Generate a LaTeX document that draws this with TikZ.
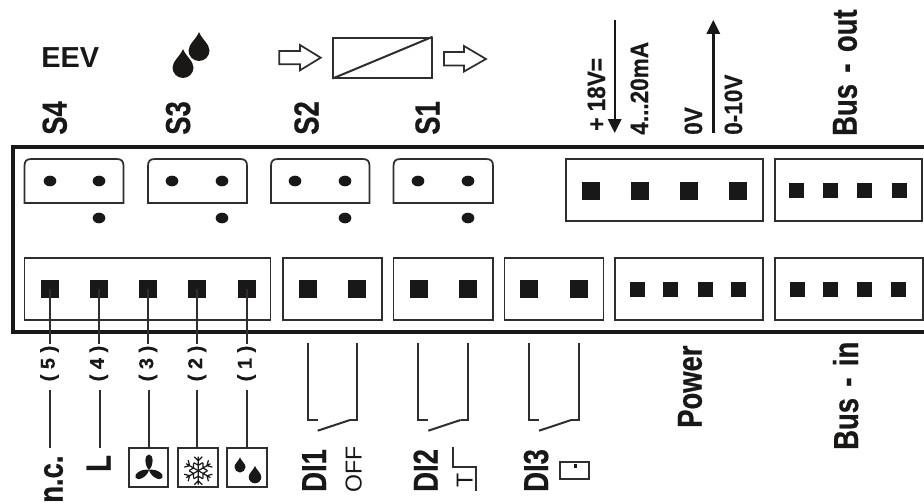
\documentclass[tikz,border=0pt]{standalone}
\usepackage{fontspec}
\setmainfont{Liberation Sans}
\newfontfamily\nbfont[FakeStretch=0.79,WordSpace=1.5,BoldFeatures={FakeBold=0.6}]{Liberation Sans}
\newfontfamily\ncfont[FakeStretch=0.9,BoldFeatures={FakeBold=0.4}]{Liberation Sans}
\newfontfamily\nnfont[BoldFeatures={FakeBold=0.5}]{Liberation Sans}
\definecolor{ink}{HTML}{1A1717}
\definecolor{thin}{HTML}{2E2E2E}
\tikzset{
  frameline/.style={draw=ink,line width=3pt},
  sock/.style={draw=thin,line width=1.3pt,line join=miter},
  boxn/.style={draw=thin,line width=1.3pt,inner sep=0pt},
  pinbig/.style={fill=ink,inner sep=0pt,minimum size=13.5pt},
  pinsmall/.style={fill=ink,inner sep=0pt,minimum size=11.25pt},
  holedot/.style={fill=ink,ellipse,inner sep=0pt,minimum width=9.5pt,minimum height=8pt},
  wire/.style={draw=thin,line width=1.5pt},
  lbig/.style={rotate=90,anchor=base west,inner sep=0pt,text=ink,font=\nbfont\bfseries\fontsize{26}{26}\selectfont},
  lmid/.style={rotate=90,anchor=base west,inner sep=0pt,text=ink,font=\ncfont\bfseries\fontsize{18.8}{19}\selectfont},
  lnum/.style={rotate=90,anchor=center,inner sep=0pt,text=ink,font=\nnfont\bfseries\fontsize{15}{16}\selectfont},
  iconbox/.style={draw=thin,line width=1.4pt,inner sep=0pt,minimum size=29.5pt},
  hollow/.style={draw=thin,line width=1.3pt,fill=white,line join=miter},
}
\usetikzlibrary{shapes.geometric,arrows.meta}
\newcommand{\dropshape}[3]{\fill[ink,shift={(#1,#2)},scale=#3] (0,-1.75) .. controls (.25,-1.1) and (1,-.6) .. (1,0) .. controls (1,.55) and (.55,1) .. (0,1) .. controls (-.55,1) and (-1,.55) .. (-1,0) .. controls (-1,-.6) and (-.25,-1.1) .. (0,-1.75) -- cycle;}
\newcommand{\topsock}[2]{\draw[sock] (#1,203) -- (#1,166) .. controls (#1,161) and (#1+2,159) .. (#1+7,159) -- (#2-7,159) .. controls (#2-2,159) and (#2,161) .. (#2,166) -- (#2,203) -- cycle;}
\begin{document}
\begin{tikzpicture}[x=0.75pt,y=-0.75pt]
\useasboundingbox (0,0) rectangle (924,503);
\fill[white] (0,0) rectangle (924,503);
% frame
\draw[frameline] (926,147) -- (12.5,147) -- (12.5,332) -- (926,332);
% top sockets
\topsock{24.5}{123.5}\topsock{148}{247}\topsock{271}{369.5}\topsock{393.5}{493}
\foreach \n/\x in {a/50,b/99,c/172,d/222,e/295,f/345,g/418,h/468}
  \node[holedot] (hole\n) at (\x,181) {};
\foreach \n/\x in {b/99,d/222,f/345,h/468}
  \node[holedot] (low\n) at (\x,218) {};
% top right connectors
\node[boxn,minimum width=148pt,minimum height=46.5pt] (conA) at (664.5,190) {};
\node[boxn,minimum width=110.5pt,minimum height=46.5pt] (conB) at (848.5,190) {};
\foreach \n/\x in {1/590.7,2/639.7,3/689,4/738}
  \node[pinbig] (ta\n) at (\x,190.5) {};
\foreach \n/\x in {1/796.7,2/830.7,3/864.3,4/899}
  \node[pinsmall] (tb\n) at (\x,190.5) {};
% bottom connectors
\foreach \n/\a/\b in {1/24.5/270.5,2/282.7/382.3,3/393.5/493,4/504.5/603.5,5/615/763.3,6/775/923}
  \draw[sock] (\a,257.7) rectangle (\b,320);
\foreach \n/\x in {5/49.5,4/98.7,3/148,2/197,1/246.5,a/308,b/357,c/418.7,d/467.7,e/529,f/578.7}
  \node[pinbig] (p\n) at (\x,289) {};
\foreach \n/\x in {g/637,h/670.5,i/705,j/738.7,k/797,l/830.7,m/864,n/898}
  \node[pinsmall] (p\n) at (\x,289) {};
% numbered wires
\foreach \n/\x in {5/49.5,4/98.7,3/148,2/197,1/246.5}{
  \coordinate (w\n) at (\x,344);
  \draw[wire] (p\n.center) -- (w\n);
  \node[lnum] (num\n) at (\x,363.5) {( \n\ )};
}
% icons
\node[iconbox] (ifan) at (148.5,467.5) {};
\node[iconbox] (isnow) at (198,467.5) {};
\node[iconbox] (idrop) at (247,467.5) {};
\coordinate (s5) at (49.5,390);\coordinate (e5) at (49.5,448);
\coordinate (s4) at (100,390);\coordinate (e4) at (100,448);
\coordinate (s3) at (148.5,390);\coordinate (s2) at (197,390);\coordinate (s1) at (246.7,390);
\draw[wire] (s5) -- (e5);
\draw[wire] (s4) -- (e4);
\draw[wire] (s3) -- (s3 |- ifan.north);
\draw[wire] (s2) -- (s2 |- isnow.north);
\draw[wire] (s1) -- (s1 |- idrop.north);
% fan
\begin{scope}[shift={(149,470)}]
\foreach \a in {0,120,240}
  \fill[ink,rotate=\a] (0,0) .. controls (-5,-5) and (-4.5,-15.5) .. (0,-15.5) .. controls (4.5,-15.5) and (5,-5) .. (0,0) -- cycle;
\end{scope}
% snowflake
\begin{scope}[shift={(198.3,470.7)}]
\foreach \a in {0,60,...,300}
  \draw[ink,line width=.9pt,rotate=\a] (0,0) -- (0,-14) (0,-10) -- (-4,-14) (0,-10) -- (4,-14) (0,-5.5) -- (-4.5,-8) (0,-5.5) -- (4.5,-8);
\end{scope}
% icon drops
\dropshape{240}{467}{5.5}
\dropshape{255}{477}{6.3}
% switches
\foreach \n/\x in {1/0,2/110.6,3/221.3}{
  \begin{scope}[xshift=\x*0.75pt]
  \coordinate (sa\n) at (307.7,343);
  \coordinate (sb\n) at (357.3,343);
  \coordinate (bl\n) at (317.7,430.7);
  \coordinate (br\n) at (350,420);
  \draw[wire,line join=miter] (sa\n) -- (307.7,420) -- (317.7,420);
  \draw[wire,line join=miter] (sb\n) -- (357.3,420) -- (br\n);
  \draw[wire] (bl\n) -- (br\n);
  \end{scope}
}
% labels below
\node[lbig] (lnc) at (62.7,503) {n.c.};
\node[lbig] (lL) at (110.5,472) {L};
\node[lbig] (lD1) at (326,492) {DI1};
\node[lbig] (lD2) at (437.7,492) {DI2};
\node[lbig] (lD3) at (548,492) {DI3};
\node[rotate=90,anchor=base west,inner sep=0pt,text=ink,font=\fontsize{17.3}{18}\selectfont] (lOff) at (361.7,493) {OFF};
\node[lbig] (lPower) at (701.7,428) {Power};
\node[lbig] (lBusin) at (858,450) {Bus - in};
% DI2 symbol
\draw[wire,line join=miter] (453.3,446.7) -- (453.3,466.7) -- (475.7,466.7) -- (475.7,491);
\node[rotate=90,anchor=base,inner sep=0pt,text=ink,font=\fontsize{17.3}{18}\selectfont] (lT) at (472.5,480) {T};
% DI3 symbol
\draw[wire] (560,462.3) rectangle (589.3,479.3);
\fill[ink] (573.5,464) rectangle (576.5,467.5);
% top labels
\node[lbig] (lS4) at (66.7,135) {S4};
\node[lbig] (lS3) at (190,135) {S3};
\node[lbig] (lS2) at (318.5,135) {S2};
\node[lbig] (lS1) at (439.5,135) {S1};
\node[lbig] (lBusout) at (856.7,136) {Bus - out};
\node[lmid] (l18) at (605,131) {+ 18V=};
\node[lmid] (l420) at (648,135) {4...20mA};
\node[lmid] (l0) at (702,135) {0V};
\node[lmid] (l010) at (742,135) {0-10V};
\coordinate (da) at (614.7,20);\coordinate (db) at (614.7,133);
\coordinate (ua) at (713.3,133);\coordinate (ub) at (713.3,20);
\draw[ink,line width=1.8pt,-{Triangle[length=10.5pt,width=10pt]}] (da) -- (db);
\draw[ink,line width=1.8pt,-{Triangle[length=10.5pt,width=10pt]}] (ua) -- (ub);
% EEV and valve
\node[anchor=base west,inner sep=0pt,text=ink,font=\bfseries\fontsize{21.7}{22}\selectfont] (lEEV) at (41,67.5) {EEV};
\dropshape{199}{50.5}{10.5}
\dropshape{183}{67.5}{10.5}
\draw[hollow] (279.3,51) -- (300,51) -- (300,45) -- (320.7,57.7) -- (300,70.3) -- (300,64.3) -- (279.3,64.3) -- cycle;
\draw[hollow] (444,52) -- (464,52) -- (464,46) -- (486,59) -- (464,71.5) -- (464,65.5) -- (444,65.5) -- cycle;
\node[boxn,minimum width=73.75pt,minimum height=30pt] (valve) at (382.5,57.7) {};
\draw[wire] (valve.south west) -- (valve.north east);
\end{tikzpicture}
\end{document}
